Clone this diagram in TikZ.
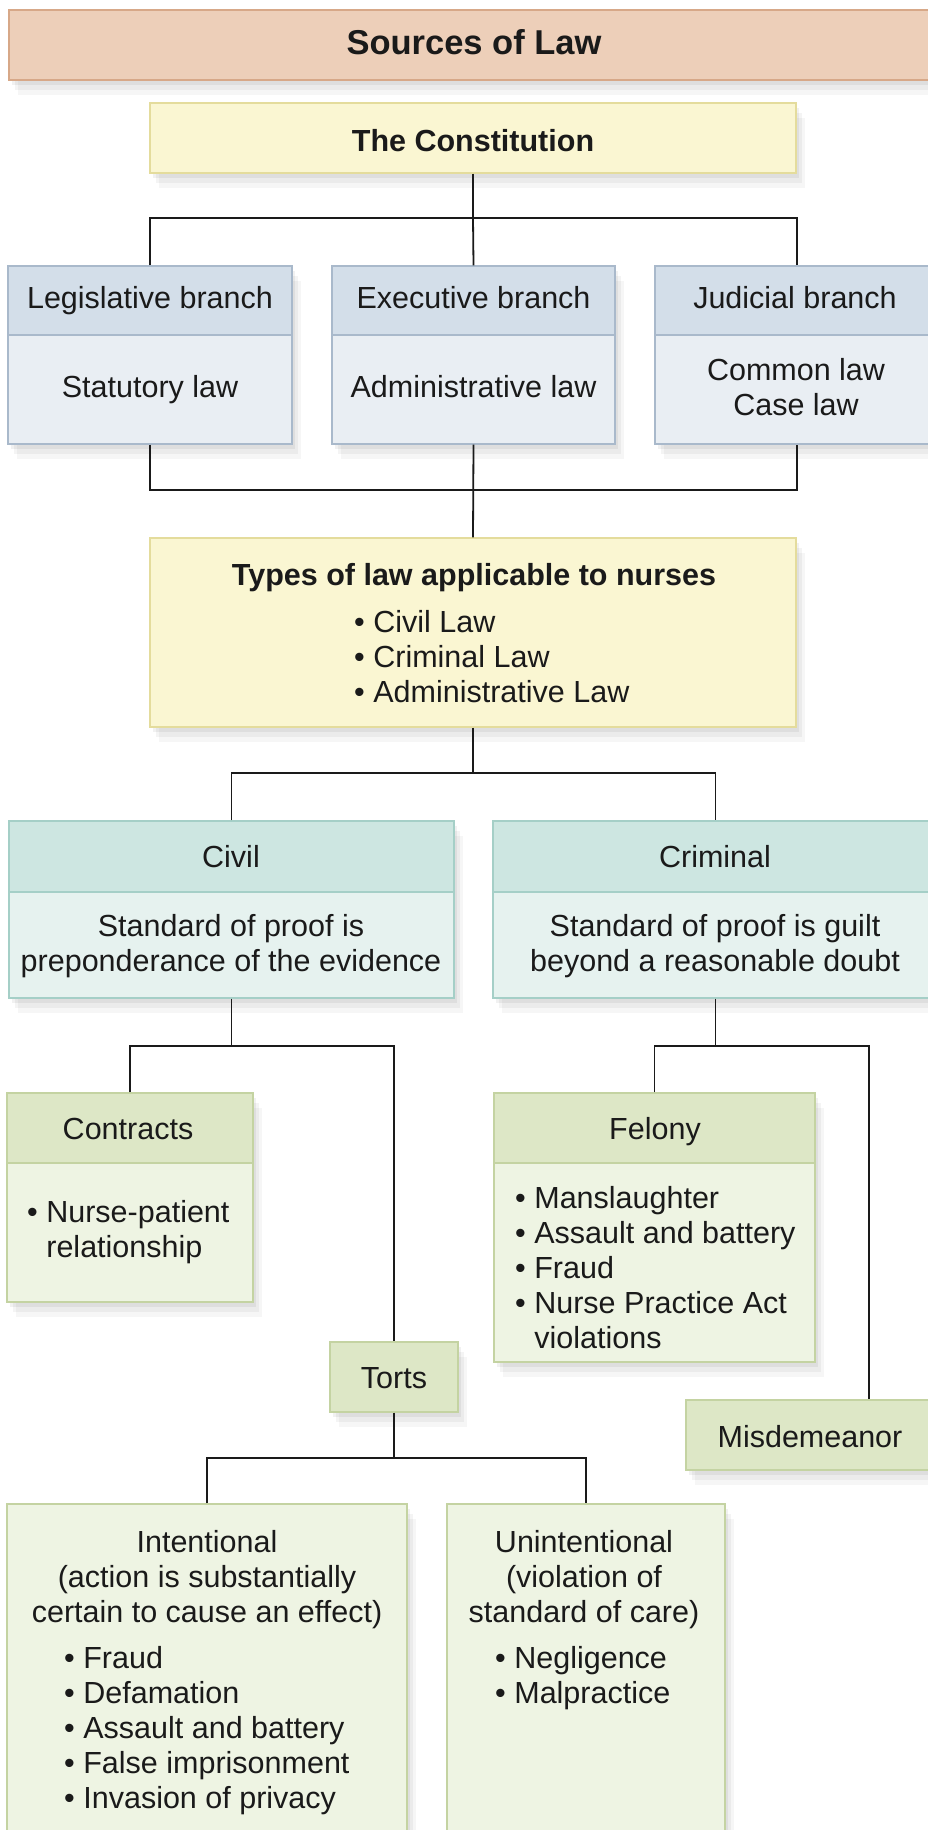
\documentclass[tikz,border=0pt]{standalone}
\usepackage{fontspec}
\setmainfont{Liberation Sans}
\usetikzlibrary{shadows,calc,fit}
\definecolor{peachF}{HTML}{EDCFB9}
\definecolor{peachD}{HTML}{D7A888}
\definecolor{yelF}{HTML}{FAF6D2}
\definecolor{yelD}{HTML}{E4DC9C}
\definecolor{bluH}{HTML}{D3DEE9}
\definecolor{bluB}{HTML}{E9EEF3}
\definecolor{bluD}{HTML}{A9B9CB}
\definecolor{tealH}{HTML}{CDE6E1}
\definecolor{tealB}{HTML}{E6F2EF}
\definecolor{tealD}{HTML}{A5CFC7}
\definecolor{grnH}{HTML}{DDE7C6}
\definecolor{grnB}{HTML}{EEF4E3}
\definecolor{grnD}{HTML}{C4D3A2}
\definecolor{ink}{HTML}{1A1A1A}
\newcommand\dgBody{\fontsize{30.5}{35}\selectfont}
\newcommand\dgBold{\fontsize{30.5}{35}\selectfont\bfseries}
\newcommand\dgTitle{\fontsize{34.5}{40}\selectfont\bfseries}
\newcommand\dgList[1]{\begin{tabular}[t]{@{}l@{\hspace{8.5pt}}l@{}}#1\end{tabular}}
\newcommand\dgCenter[1]{\begin{tabular}[t]{@{}c@{}}#1\end{tabular}}
\begin{document}
\begin{tikzpicture}[x=1pt,y=-1pt,
  shad/.style={
    general shadow={fill=black,opacity=.035,shadow xshift=9pt,shadow yshift=-15pt},
    general shadow={fill=black,opacity=.045,shadow xshift=6pt,shadow yshift=-10pt},
    general shadow={fill=black,opacity=.055,shadow xshift=3pt,shadow yshift=-5pt}},
  box/.style={draw, line width=1.3pt, inner sep=0pt, shad},
  txt/.style={anchor=base, inner sep=0pt, font=\dgBody, text=ink},
  lst/.style={anchor=base west, inner sep=0pt, font=\dgBody, text=ink},
  conn/.style={draw=ink, line width=1.8pt}]
\useasboundingbox (0,0) rectangle (928,1830);
\clip (0,0) rectangle (928,1830);
\fill[white] (0,0) rectangle (928,1830);

% title
\node[box, fill=peachF, draw=peachD, fit={(9,10)(945,80)}] (title) {};
\node[txt, font=\dgTitle] (titleT) at (474,54.5) {Sources of Law};

% constitution
\node[box, fill=yelF, draw=yelD, fit={(150,103)(796,173)}] (const) {};
\node[txt, font=\dgBold] (constT) at (473,151.5) {The Constitution};

% branches
\node[box, fill=bluH, draw=bluD, fit={(8,266)(292,335)}] (legH) {};
\node[box, fill=bluB, draw=bluD, fit={(8,335)(292,444)}] (legB) {};
\node[box, fill=bluH, draw=bluD, fit={(332,266)(615,335)}] (exeH) {};
\node[box, fill=bluB, draw=bluD, fit={(332,335)(615,444)}] (exeB) {};
\node[box, fill=bluH, draw=bluD, fit={(655,266)(939,335)}] (judH) {};
\node[box, fill=bluB, draw=bluD, fit={(655,335)(939,444)}] (judB) {};
\node[txt] (legHT) at (150,308) {Legislative branch};
\node[txt] (legBT) at (150,397) {Statutory law};
\node[txt] (exeHT) at (473.5,308) {Executive branch};
\node[txt] (exeBT) at (473.5,397) {Administrative law};
\node[txt] (judHT) at (795,308) {Judicial branch};
\node[txt] (judBT) at (796,380) {\dgCenter{Common law\\Case law}};

% types
\node[box, fill=yelF, draw=yelD, fit={(150,538)(796,727)}] (types) {};
\node[txt, font=\dgBold] (typesT) at (474,585) {Types of law applicable to nurses};
\node[lst] (typesL) at (354,632) {\dgList{•&Civil Law\\•&Criminal Law\\•&Administrative Law}};

% civil / criminal
\node[box, fill=tealH, draw=tealD, fit={(9,821)(454,892)}] (civH) {};
\node[box, fill=tealB, draw=tealD, fit={(9,892)(454,998)}] (civB) {};
\node[box, fill=tealH, draw=tealD, fit={(493,821)(938,892)}] (crimH) {};
\node[box, fill=tealB, draw=tealD, fit={(493,892)(938,998)}] (crimB) {};
\node[txt] (civHT) at (231,867) {Civil};
\node[txt] (civBT) at (231,936) {\dgCenter{Standard of proof is\\preponderance of the evidence}};
\node[txt] (crimHT) at (715,867) {Criminal};
\node[txt] (crimBT) at (715,936) {\dgCenter{Standard of proof is guilt\\beyond a reasonable doubt}};

% contracts / felony
\node[box, fill=grnH, draw=grnD, fit={(7,1093)(253,1163)}] (contH) {};
\node[box, fill=grnB, draw=grnD, fit={(7,1163)(253,1302)}] (contB) {};
\node[txt] (contHT) at (128,1139) {Contracts};
\node[lst] (contL) at (27,1222) {\dgList{•&Nurse-patient\\&relationship}};
\node[box, fill=grnH, draw=grnD, fit={(494,1093)(815,1163)}] (felH) {};
\node[box, fill=grnB, draw=grnD, fit={(494,1163)(815,1362)}] (felB) {};
\node[txt] (felHT) at (655,1139) {Felony};
\node[lst] (felL) at (515,1208) {\dgList{•&Manslaughter\\•&Assault and battery\\•&Fraud\\•&Nurse Practice Act\\&violations}};

% torts / misdemeanor
\node[box, fill=grnH, draw=grnD, fit={(330,1342)(458,1412)}] (torts) {};
\node[txt] (tortsT) at (394,1388) {Torts};
\node[box, fill=grnH, draw=grnD, fit={(686,1400)(940,1470)}] (misd) {};
\node[txt] (misdT) at (810,1447) {Misdemeanor};

% intentional / unintentional
\node[box, fill=grnB, draw=grnD, fit={(7,1504)(407,1850)}] (intB) {};
\node[txt] (intT) at (207,1552) {\dgCenter{Intentional\\(action is substantially\\certain to cause an effect)}};
\node[lst] (intL) at (64,1668) {\dgList{•&Fraud\\•&Defamation\\•&Assault and battery\\•&False imprisonment\\•&Invasion of privacy}};
\node[box, fill=grnB, draw=grnD, fit={(447,1504)(725,1850)}] (unintB) {};
\node[txt] (unintT) at (584,1552) {\dgCenter{Unintentional\\(violation of\\standard of care)}};
\node[lst] (unintL) at (495,1668) {\dgList{•&Negligence\\•&Malpractice}};

% connectors
\coordinate (j1) at (473,218);
\draw[conn] (const.south) -- (j1);
\draw[conn] (legH.north) |- (j1) -| (judH.north);
\draw[conn] (j1) -- (exeH.north);

\coordinate (j2) at (473,490);
\draw[conn] (legB.south) |- (j2) -| (judB.south);
\draw[conn] (exeB.south) -- (types.north);

\coordinate (j3) at (473,773);
\draw[conn] (types.south) -- (j3);
\draw[conn] (civH.north) |- (j3) -| (crimH.north);

\coordinate (j4) at (231.5,1046);
\draw[conn] (civB.south) -- (j4);
\draw[conn] (contH.north) |- (j4) -| (torts.north);

\coordinate (j5) at (715.5,1046);
\coordinate (misdIn) at ($(misd.north west)+(184,0)$);
\draw[conn] (crimB.south) -- (j5);
\draw[conn] (felH.north) |- (j5) -| (misdIn);

\coordinate (j6) at (394,1458);
\draw[conn] (torts.south) -- (j6);
\draw[conn] (intB.north) |- (j6) -| (unintB.north);
\end{tikzpicture}
\end{document}
